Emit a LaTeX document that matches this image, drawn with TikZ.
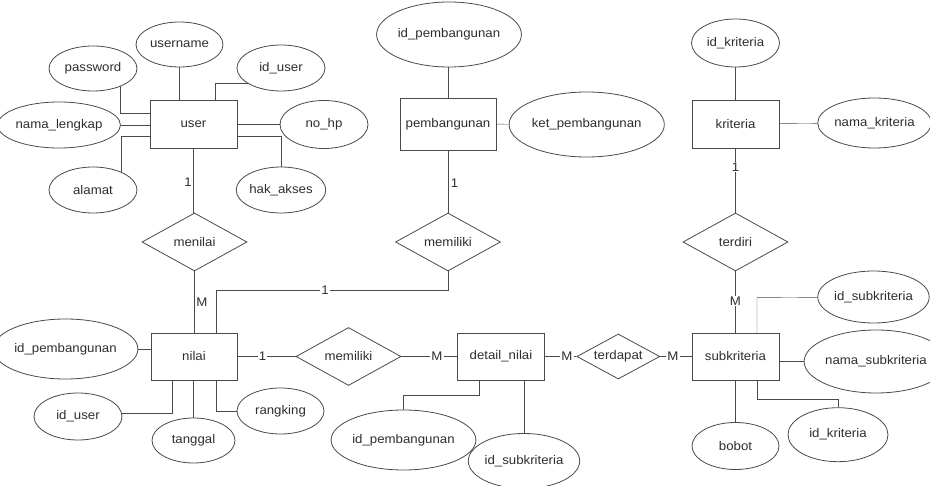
\documentclass[tikz,border=0pt]{standalone}
\usepackage{fontspec}
\setmainfont{Liberation Sans}[FakeStretch=1.06]
\usetikzlibrary{shapes.geometric,backgrounds}
\definecolor{ln}{HTML}{4A4A4A}
\definecolor{txt}{HTML}{2E2E2E}

\begin{document}
\begin{tikzpicture}[x=1pt,y=-1pt,line width=0.8pt,
  every node/.style={font=\fontsize{12.5}{14}\selectfont,text=txt},
  entity/.style={draw=ln,fill=white,rectangle,inner sep=0pt,
    minimum width=87pt,minimum height=48pt},
  attr/.style={draw=ln,fill=white,ellipse,inner sep=0pt},
  rel/.style={draw=ln,fill=white,diamond,inner sep=0pt,aspect=1.8,
    minimum width=105pt,minimum height=58pt},
  card/.style={fill=white,inner sep=1pt},
  link/.style={draw=ln}]
\useasboundingbox (0,0) rectangle (930,486);

% ---- entity user and its attributes
\node[entity] (user) at (193.5,124) {user};
\node[attr,minimum width=87pt,minimum height=45pt] (username) at (179.5,44.5) {username};
\node[attr,minimum width=88pt,minimum height=45pt] (password) at (93,68.5) {password};
\node[attr,minimum width=88pt,minimum height=46pt] (iduser) at (281,68) {id\_user};
\node[attr,minimum width=102pt,minimum height=46pt] (namalengkap) at (59,125) {nama\_lengkap};
\node[attr,minimum width=88pt,minimum height=48pt] (nohp) at (324,124.5) {no\_hp};
\node[attr,minimum width=88pt,minimum height=46pt] (alamat) at (93,190) {alamat};
\node[attr,minimum width=88pt,minimum height=46pt] (hakakses) at (281,190) {hak\_akses};

% ---- entity pembangunan
\node[entity,minimum width=96pt,minimum height=52pt] (pemb) at (448,124) {pembangunan};
\node[attr,minimum width=116pt,minimum height=65pt] (idpembA) at (449,34.5) {id\_pembangunan};
\node[attr,minimum width=120pt,minimum height=65pt] (ketpemb) at (586.7,124.5) {ket\_pembangunan};

% ---- entity kriteria
\node[entity] (kriteria) at (735.5,124) {kriteria};
\node[attr,minimum width=88pt,minimum height=48pt] (idkritA) at (735.5,43) {id\_kriteria};
\node[attr,minimum width=99pt,minimum height=50pt] (namakrit) at (874.5,123) {nama\_kriteria};

% ---- relationships
\node[rel] (menilai) at (194.5,242) {menilai};
\node[rel] (memilikiA) at (448,242) {memiliki};
\node[rel] (terdiri) at (735.5,242) {terdiri};
\node[rel] (memilikiB) at (348.5,356.5) {memiliki};
\node[rel,minimum width=83pt,minimum height=45pt] (terdapat) at (618.3,356.5) {terdapat};

% ---- entity nilai
\node[entity,minimum width=86pt,minimum height=47pt] (nilai) at (194,356.5) {nilai};
\node[attr,minimum width=113pt,minimum height=60pt] (idpembB) at (65.5,349) {id\_pembangunan};
\node[attr,minimum width=88pt,minimum height=47pt] (iduserB) at (78,416.5) {id\_user};
\node[attr,minimum width=83pt,minimum height=45pt] (tanggal) at (193.5,440.5) {tanggal};
\node[attr,minimum width=87pt,minimum height=46pt] (rangking) at (280.5,411) {rangking};

% ---- entity detail_nilai
\node[entity,minimum height=47pt] (detail) at (501,356.5) {detail\_nilai};
\node[attr,minimum width=113pt,minimum height=60pt] (idpembC) at (403.5,440) {id\_pembangunan};
\node[attr,minimum width=102pt,minimum height=55pt] (idsubB) at (524,461) {id\_subkriteria};

% ---- entity subkriteria
\node[entity,minimum height=47pt] (subk) at (735.5,356.5) {subkriteria};
\node[attr,minimum width=99pt,minimum height=52pt] (idsubA) at (873.5,297) {id\_subkriteria};
\node[attr,minimum width=112pt,minimum height=63pt] (namasub) at (876,361.5) {nama\_subkriteria};
\node[attr,minimum width=87pt,minimum height=47pt] (bobot) at (735.5,446) {bobot};
\node[attr,minimum width=100pt,minimum height=54pt] (idkritB) at (838,434.7) {id\_kriteria};

% ---- bend points of the orthogonal connectors
\coordinate (bpw) at (120,113);
\coordinate (bal) at (121,136);
\coordinate (biu) at (215,83);
\coordinate (bha) at (281,136);
\coordinate (bnp) at (216,290);
\coordinate (bnu) at (172,413);
\coordinate (brk) at (216,411);
\coordinate (bdn) at (479,395);
\coordinate (bs1) at (757,297.7);
\coordinate (bs3) at (757,399);

% ---- connectors (behind the white-filled shapes)
\begin{scope}[on background layer]
  \path[link] (username) -- (username |- user);
  \path[link] (bpw |- password) -- (bpw) -- (bpw -| user);
  \path[link] (namalengkap) -- (namalengkap -| user);
  \path[link] (bal |- alamat) -- (bal) -- (bal -| user);
  \path[link] (biu -| iduser) -- (biu) -- (biu |- user);
  \path[link] (user) -- (user |- nohp) -- (nohp);
  \path[link] (bha -| user) -- (bha) -- (hakakses);
  \path[link] (user) -- (user |- menilai);
  \path[link] (menilai) -- (menilai |- nilai);
  \path[link] (bnp |- nilai) -- (bnp) -- (bnp -| memilikiA) -- (memilikiA);
  \path[link] (pemb) -- (memilikiA);
  \path[link] (pemb) -- (pemb |- idpembA);
  \path[link] (pemb) -- (ketpemb);
  \path[link] (kriteria) -- (idkritA);
  \path[link] (kriteria) -- (namakrit);
  \path[link] (kriteria) -- (terdiri) -- (subk);
  \path[link] (nilai) -- (memilikiB) -- (detail) -- (terdapat) -- (subk);
  \path[link] (idpembB) -- (idpembB -| nilai);
  \path[link] (bnu -| iduserB) -- (bnu) -- (bnu |- nilai);
  \path[link] (tanggal) -- (tanggal |- nilai);
  \path[link] (brk |- nilai) -- (brk) -- (rangking);
  \path[link] (bdn |- detail) -- (bdn) -- (bdn -| idpembC) -- (idpembC);
  \path[link] (idsubB |- detail) -- (idsubB);
  \path[link] (bs1 |- subk) -- (bs1) -- (idsubA);
  \path[link] (subk.east |- namasub) -- (namasub);
  \path[link] (subk) -- (bobot);
  \path[link] (bs3 |- subk) -- (bs3) -- (bs3 -| idkritB) -- (idkritB);
\end{scope}

% ---- cardinalities
\node[inner sep=0pt] (c1) at (188,182) {1};
\node[inner sep=0pt] (c2) at (202,302) {M};
\node[card] (c3) at (325,290) {1};
\node[inner sep=0pt] (c4) at (454.5,183) {1};
\node[card] (c5) at (262.5,356.5) {1};
\node[card] (c6) at (437,356.5) {M};
\node[card] (c7) at (567,356.5) {M};
\node[card] (c8) at (673,356.5) {M};
\node[card] (c9) at (735.5,167) {1};
\node[card] (c10) at (735.5,301) {M};
\end{tikzpicture}
\end{document}
